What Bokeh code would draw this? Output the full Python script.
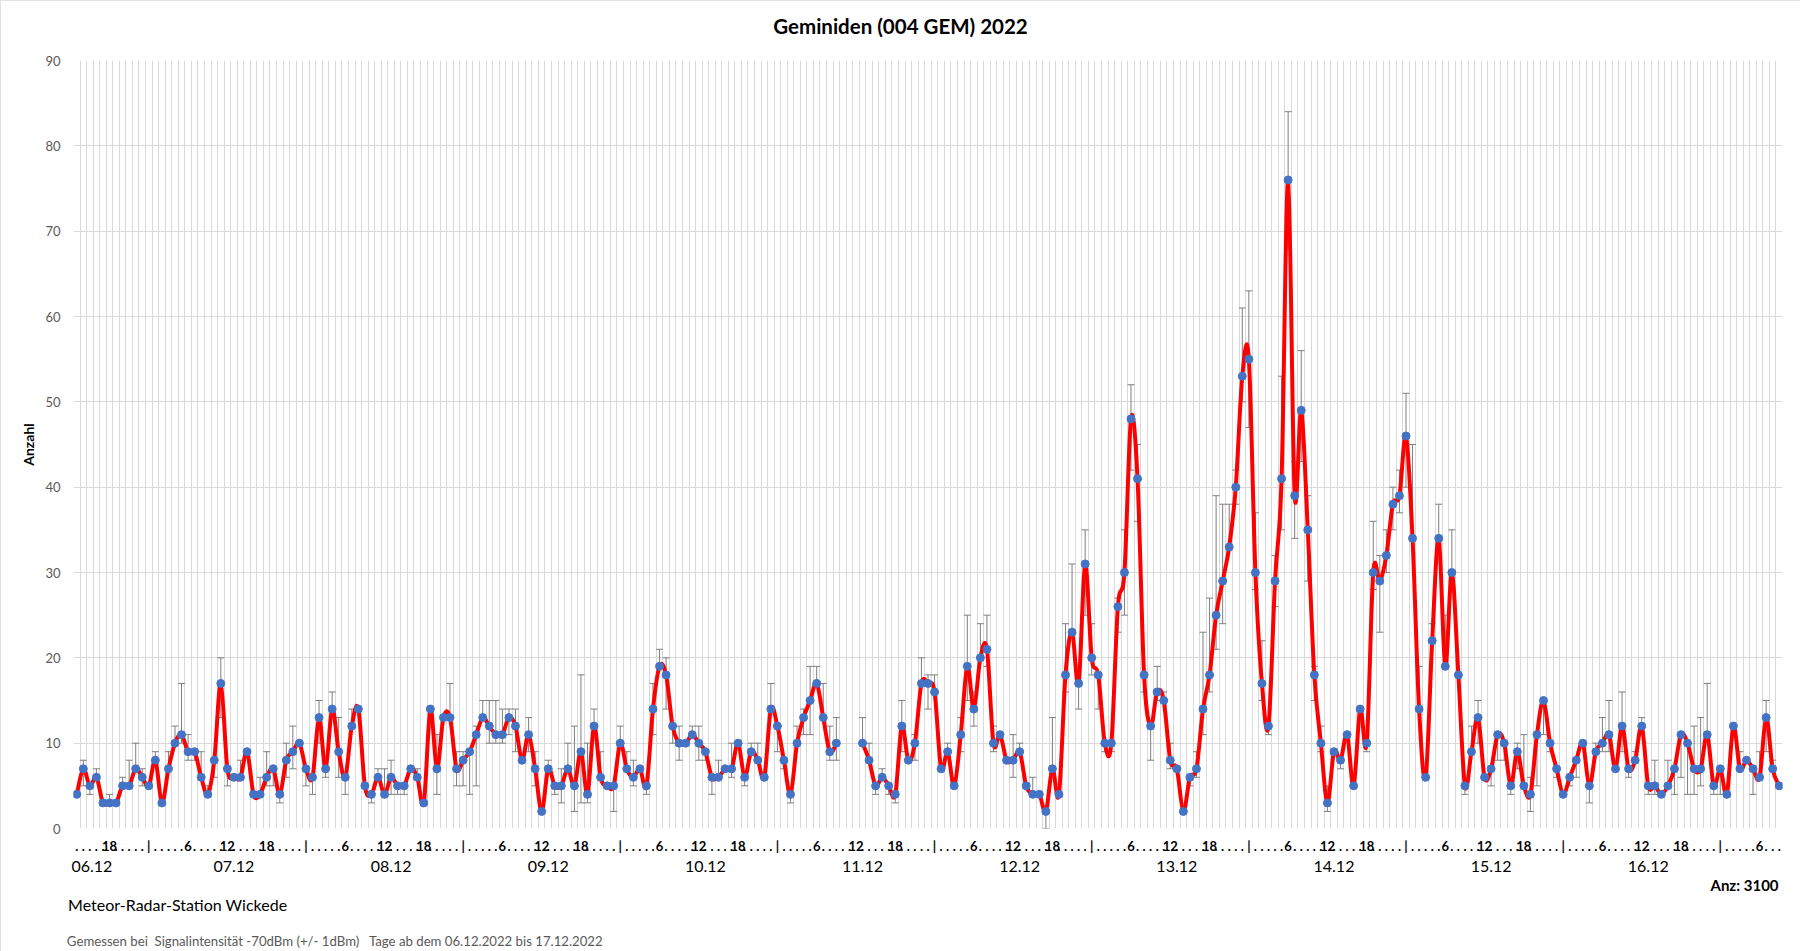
from bokeh.plotting import figure
from bokeh.models import (Range1d, LinearAxis, FixedTicker, Whisker, TeeHead,
                          ColumnDataSource, Grid)
from bokeh.embed import file_html
from bokeh.resources import INLINE

# ---------------- data (hourly counts, first hour = 06.12.2022 13:00) ----------------
START_HOUR = 13
day_labels = ["06.12", "07.12", "08.12", "09.12", "10.12", "11.12",
              "12.12", "13.12", "14.12", "15.12", "16.12"]

counts = (
    [4, 7, 5, 6, 3, 3, 3, 5, 5, 7, 6, 5, 8, 3, 7, 10, 11, 9, 9, 6, 4, 8, 17, 7, 6, 6, 9, 4, 4, 6,
     7, 4, 8, 9, 10, 7, 6, 13, 7, 14, 9, 6, 12, 14, 5, 4, 6, 4, 6, 5, 5, 7, 6, 3, 14, 7, 13, 13]
    + [7, 8, 9, 11, 13, 12, 11, 11, 13, 12, 8, 11, 7, 2, 7, 5, 5, 7, 5, 9,
       4, 12, 6, 5, 5, 10, 7, 6, 7, 5, 14, 19]
    + [18, 12, 10, 10, 11, 10, 9, 6, 6, 7, 7, 10, 6, 9, 8, 6, 14, 12, 8, 4,
       10, 13, 15, 17, 13, 9, 10]
    + [None, None, None]
    + [10, 8, 5, 6, 5, 4, 12, 8, 10, 17, 17, 16, 7, 9, 5, 11, 19, 14, 20, 21,
       10, 11, 8, 8, 9, 5, 4, 4, 2, 7, 4, 18, 23, 17]
    + [31, 20, 18, 10, 10, 26, 30, 48, 41, 18, 12, 16, 15, 8, 7, 2, 6, 7, 14, 18,
       25, 29, 33, 40, 53, 55, 30, 17, 12, 29, 41, 76]
    + [39, 49, 35, 18, 10, 3, 9, 8, 11, 5, 14, 10, 30, 29, 32, 38, 39, 46, 34, 14,
       6, 22, 34, 19, 30, 18, 5, 9, 13, 6, 7, 11]
    + [10, 5, 9, 5, 4, 11, 15, 10, 7, 4, 6, 8, 10, 5, 9, 10, 11, 7, 12, 7,
       8, 12, 5, 5, 4, 5, 7, 11, 10, 7, 7, 11, 5, 7, 4, 12, 7, 8, 7, 6, 13, 7, 5]
)

err_upper = (
    [4, 8, 5, 7, 3, 4, 3, 6, 8, 10, 7, 5, 9, 3, 9, 12, 17, 11, 9, 9, 5, 8, 20, 7, 6, 8, 9, 4, 6, 9,
     7, 4, 10, 12, 10, 7, 6, 15, 7, 16, 13, 6, 14, 14, 5, 4, 7, 7, 8, 5, 5, 7, 7, 3, 14, 11, 13, 17]
    + [9, 9, 9, 12, 15, 15, 15, 14, 14, 14, 8, 13, 9, 2, 8, 5, 7, 10, 12, 18,
       10, 14, 9, 5, 5, 12, 9, 8, 7, 5, 17, 21]
    + [20, 12, 12, 10, 12, 12, 9, 6, 8, 7, 10, 10, 6, 10, 10, 6, 17, 12, 8, 4,
       12, 14, 19, 19, 17, 12, 13]
    + [None, None, None]
    + [13, 10, 5, 7, 5, 4, 15, 8, 11, 20, 18, 18, 7, 10, 5, 13, 25, 16, 24, 25,
       12, 11, 8, 11, 10, 5, 6, 4, 2, 13, 4, 24, 31, 17]
    + [35, 24, 18, 10, 10, 27, 35, 52, 45, 18, 12, 19, 16, 10, 7, 2, 6, 9, 23, 27,
       39, 38, 38, 42, 61, 63, 37, 22, 12, 32, 53, 84]
    + [43, 56, 39, 19, 12, 5, 9, 8, 11, 5, 14, 10, 36, 32, 35, 40, 42, 51, 45, 19,
       6, 24, 38, 25, 35, 18, 5, 12, 15, 6, 7, 11]
    + [10, 5, 10, 11, 6, 11, 15, 10, 7, 4, 6, 8, 10, 5, 10, 13, 15, 7, 16, 7,
       9, 13, 5, 8, 4, 8, 7, 11, 10, 12, 13, 17, 5, 7, 4, 12, 9, 8, 7, 9, 15, 8, 5]
)

err_lower = (
    [4, 5, 4, 6, 3, 3, 3, 5, 5, 7, 5, 5, 8, 3, 7, 10, 10, 8, 8, 6, 4, 6, 13, 5, 6, 6, 9, 4, 4, 5,
     5, 3, 6, 7, 10, 5, 4, 10, 6, 14, 6, 4, 12, 14, 5, 3, 6, 4, 4, 4, 4, 7, 6, 3, 14, 4, 13, 13]
    + [5, 5, 4, 5, 13, 10, 10, 10, 11, 9, 8, 9, 5, 2, 7, 4, 3, 7, 2, 3,
       3, 12, 6, 5, 2, 10, 7, 5, 7, 4, 11, 19]
    + [14, 10, 8, 10, 11, 8, 8, 4, 6, 7, 6, 10, 5, 9, 8, 6, 14, 9, 7, 3,
       10, 11, 11, 17, 13, 8, 8]
    + [None, None, None]
    + [10, 8, 4, 6, 4, 3, 9, 8, 8, 17, 14, 16, 7, 9, 5, 9, 15, 12, 20, 19,
       9, 11, 8, 6, 9, 5, 4, 4, 0, 7, 4, 16, 23, 14]
    + [25, 18, 14, 9, 9, 23, 25, 42, 36, 16, 8, 15, 15, 7, 7, 2, 5, 6, 11, 16,
       21, 24, 33, 38, 50, 47, 28, 15, 11, 26, 35, 68]
    + [34, 43, 29, 15, 9, 2, 9, 7, 11, 5, 14, 9, 28, 23, 30, 35, 37, 40, 34, 14,
       6, 22, 34, 19, 30, 18, 4, 9, 10, 6, 5, 8]
    + [8, 4, 7, 5, 2, 5, 11, 9, 6, 4, 5, 6, 10, 3, 9, 9, 9, 7, 9, 6,
       8, 12, 4, 4, 4, 5, 4, 6, 4, 4, 5, 11, 4, 4, 4, 12, 7, 8, 4, 6, 9, 7, 5]
)

y_ticks = [0, 10, 20, 30, 40, 50, 60, 70, 80, 90]
hour_marks = {0: "|", 6: "6", 12: "12", 18: "18"}

NB = "\u00a0"
TITLE = "Geminiden (004 GEM) 2022"
STATION = "Meteor-Radar-Station" + NB + "Wickede"
TOTAL = "Anz: 3100"
NOTE = ("Gemessen bei " + NB + "Signalintensität -70dBm (+/- 1dBm) " + NB + NB
        + "Tage ab dem 06.12.2022 bis 17.12.2022")

# ---------------- figure ----------------
n = len(counts)
FONT = "Lato"
GRID = "#d9d9d9"

p = figure(width=1800, height=951, output_backend="svg", toolbar_location=None,
           x_range=Range1d(-0.5, n - 0.5), y_range=Range1d(0, 90),
           x_axis_type=None, y_axis_type=None,
           min_border_left=73, min_border_right=18, min_border_top=60, min_border_bottom=123)
p.outline_line_color = None
p.background_fill_color = "white"
p.border_fill_color = "white"
# thin light-grey chart-area border
p.styles = {"outline": "1px solid #d9d9d9", "outline-offset": "-1px"}

# grids: vertical line at every category boundary, horizontal every 10
p.add_layout(Grid(dimension=0, ticker=FixedTicker(ticks=[i - 0.5 for i in range(n + 1)]),
                  grid_line_color=GRID, grid_line_width=1))
p.add_layout(Grid(dimension=1, ticker=FixedTicker(ticks=y_ticks),
                  grid_line_color=GRID, grid_line_width=1))

# y axis
yax = LinearAxis(ticker=FixedTicker(ticks=y_ticks), axis_label="Anzahl",
                 axis_line_color=None, major_tick_line_color=None, minor_tick_line_color=None,
                 major_tick_out=0, major_tick_in=0, major_label_standoff=13,
                 major_label_text_font=FONT, major_label_text_font_size="13px",
                 major_label_text_color="#595959",
                 axis_label_text_font=FONT, axis_label_text_font_size="14px",
                 axis_label_text_font_style="bold", axis_label_text_color="black",
                 axis_label_standoff=5)
p.add_layout(yax, "left")


def text_axis(ticks, overrides, standoff, size, style="normal", color="black"):
    return LinearAxis(ticker=FixedTicker(ticks=ticks), major_label_overrides=overrides,
                      axis_line_color=None, major_tick_line_color=None,
                      minor_tick_line_color=None, major_tick_out=0, major_tick_in=0,
                      major_label_standoff=standoff, major_label_text_font=FONT,
                      major_label_text_font_size=size, major_label_text_font_style=style,
                      major_label_text_color=color)


# chart title (centred at its reference position above the plot)
title_pos = 125.8
p.add_layout(text_axis([title_pos], {title_pos: TITLE}, 23, "20.5px", "bold"), "above")

# hour labels (one per category)
hour_over = {}
for i in range(n):
    h = (START_HOUR + i) % 24
    hour_over[i] = hour_marks.get(h, ".")
p.add_layout(text_axis(list(range(n)), hour_over, 9, "13px", "bold"), "below")

# day labels (at 13:00 of each day; first one nudged right to fit)
day_pos = []
for d, lab in enumerate(day_labels):
    pos = d * 24 + 13 - START_HOUR
    day_pos.append(max(pos, 2.3))
p.add_layout(text_axis(day_pos, {pos: lab for pos, lab in zip(day_pos, day_labels)},
                       4, "16px"), "below")

# bottom texts (centred at their reference positions along the category axis)
total_pos = 254.7
station_pos = 15.4
note_pos = 39.4
p.add_layout(text_axis([total_pos], {total_pos: TOTAL}, 1, "15px", "bold"), "below")
p.add_layout(text_axis([station_pos], {station_pos: STATION}, -2, "16px"), "below")
p.add_layout(text_axis([note_pos], {note_pos: NOTE}, 16, "13.2px", "normal", "#595959"), "below")

# error bars
xs_e = [i for i in range(n) if counts[i] is not None]
esrc = ColumnDataSource(dict(x=xs_e,
                             upper=[err_upper[i] for i in xs_e],
                             lower=[err_lower[i] for i in xs_e]))
ecol = "#7f7f7f"
p.add_layout(Whisker(source=esrc, base="x", upper="upper", lower="lower",
                     line_color=ecol, line_width=1,
                     upper_head=TeeHead(size=7, line_color=ecol, line_width=1),
                     lower_head=TeeHead(size=7, line_color=ecol, line_width=1)))

# smoothed line (Bezier segments through the data points)
seg = dict(x0=[], y0=[], x1=[], y1=[], cx0=[], cy0=[], cx1=[], cy1=[])
for i in range(n - 1):
    if counts[i] is None or counts[i + 1] is None:
        continue
    xa, ya = i, counts[i]
    xb, yb = i + 1, counts[i + 1]
    if i - 1 >= 0 and counts[i - 1] is not None:
        xp, yp = i - 1, counts[i - 1]
    else:
        xp, yp = xa, ya
    if i + 2 < n and counts[i + 2] is not None:
        xn, yn = i + 2, counts[i + 2]
    else:
        xn, yn = xb, yb
    seg["x0"].append(xa); seg["y0"].append(ya)
    seg["x1"].append(xb); seg["y1"].append(yb)
    seg["cx0"].append(xa + (xb - xp) / 6); seg["cy0"].append(ya + (yb - yp) / 6)
    seg["cx1"].append(xb - (xn - xa) / 6); seg["cy1"].append(yb - (yn - ya) / 6)
p.bezier(x0="x0", y0="y0", x1="x1", y1="y1", cx0="cx0", cy0="cy0", cx1="cx1", cy1="cy1",
         source=ColumnDataSource(seg), line_color="#ff0000", line_width=4, line_cap="round")

# markers
psrc = ColumnDataSource(dict(x=list(range(n)),
                             y=[float("nan") if v is None else v for v in counts]))
p.scatter("x", "y", source=psrc, size=8, marker="circle",
          fill_color="#4472c4", line_color="#4472c4")

open("out.html", "w").write(file_html(p, INLINE))
